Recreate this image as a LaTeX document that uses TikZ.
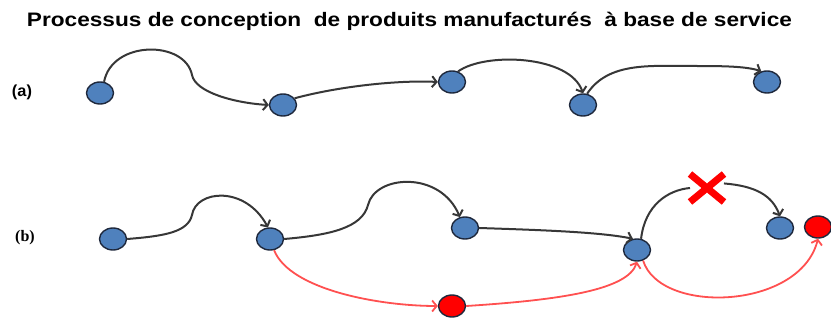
\documentclass[tikz,border=0pt]{standalone}
\usepackage{graphicx}
\usepackage{fontspec}
\setmainfont{Liberation Sans}
\newfontfamily\seriffont{Liberation Serif}
\usetikzlibrary{shapes.geometric,shapes.misc,arrows.meta}
\definecolor{bleuetape}{RGB}{79,129,189}
\definecolor{bordetape}{RGB}{30,40,60}
\definecolor{grisfleche}{RGB}{55,55,55}
\definecolor{rougefleche}{RGB}{255,80,80}

\begin{document}
\begin{tikzpicture}[
    x = 1pt, y = -1pt,
    etape/.style = {ellipse, draw = bordetape, line width = 1.4pt, fill = bleuetape,
        minimum width = 27pt, minimum height = 22pt, inner sep = 0pt},
    etaperouge/.style = {etape, fill = red},
    fleche/.style = {draw = grisfleche, line width = 2pt,
        -{Straight Barb[length=4.5pt,width=11pt]}},
    flecherouge/.style = {fleche, draw = rougefleche, line width = 1.8pt},
    lettre/.style = {font = \bfseries\fontsize{16}{18}\selectfont}]

\useasboundingbox (0,0) rectangle (831,320);

\node (titre) at (409.5,21) {\resizebox{765pt}{\height}{\bfseries\fontsize{19.5}{22}\selectfont
	Processus de conception\ \ de produits manufacturés\ \ à base de service}};

\node[lettre] (la) at (22,92) {\resizebox{20pt}{\height}{(a)}};
\node[etape] (a1) at (100,93) {};
\node[etape] (a2) at (283,105) {};
\node[etape] (a3) at (452,82) {};
\node[etape] (a4) at (583,105) {};
\node[etape] (a5) at (767,82) {};

\draw[fleche] (a1.70) .. controls (112,40) and (185,40) .. (192,75)
	  .. controls (195.5,92.5) and (235,103) .. (a2.west);
\draw[fleche] (a2.30) .. controls (340,86) and (400,80) .. (a3.west);
\draw[fleche] (a3.60) .. controls (485,52) and (570,55) .. (a4.north);
\draw[fleche] (a4.70) .. controls (608,62) and (650,66) .. (690,66)
	  .. controls (720,66) and (745,66) .. (a5.118);

\node[lettre, font = \seriffont\bfseries\fontsize{16}{18}\selectfont] (lb) at (25,238) {(b)};
\node[etape] (b1) at (113,239) {};
\node[etape] (b2) at (270,239) {};
\node[etape] (b3) at (465,228) {};
\node[etape] (b4) at (637,250) {};
\node[etape] (b5) at (780,228) {};
\node[etaperouge] (r1) at (452,306) {};
\node[etaperouge] (r2) at (818,227) {};
\node[cross out, draw = red, line width = 7pt, minimum width = 27pt,
	  minimum height = 21pt, inner sep = 0pt] (croix) at (707,188) {};

\draw[fleche] (b1.east) .. controls (165,236) and (188,232) .. (192,215)
	  .. controls (196,190) and (245,185) .. (b2.100);
\draw[fleche] (b2.east) .. controls (330,235) and (362,228) .. (368,205)
	  .. controls (375,175) and (440,170) .. (b3.115);
\draw[fleche] (b3.east) .. controls (540,230) and (600,232) .. (b4.110);
\draw[fleche, -] (b4.70) .. controls (645,205) and (668,190) .. (croix.west);
\draw[fleche] (croix.15) .. controls (755,186) and (772,195) .. (b5.north);

\draw[flecherouge] (b2.-70) .. controls (290,290) and (380,306) .. (r1.west);
\draw[flecherouge] (r1.east) .. controls (560,300) and (628,290) .. (b4.south);
\draw[flecherouge] (b4.-60) .. controls (660,315) and (800,310) .. (r2.south);
\end{tikzpicture}
\end{document}
